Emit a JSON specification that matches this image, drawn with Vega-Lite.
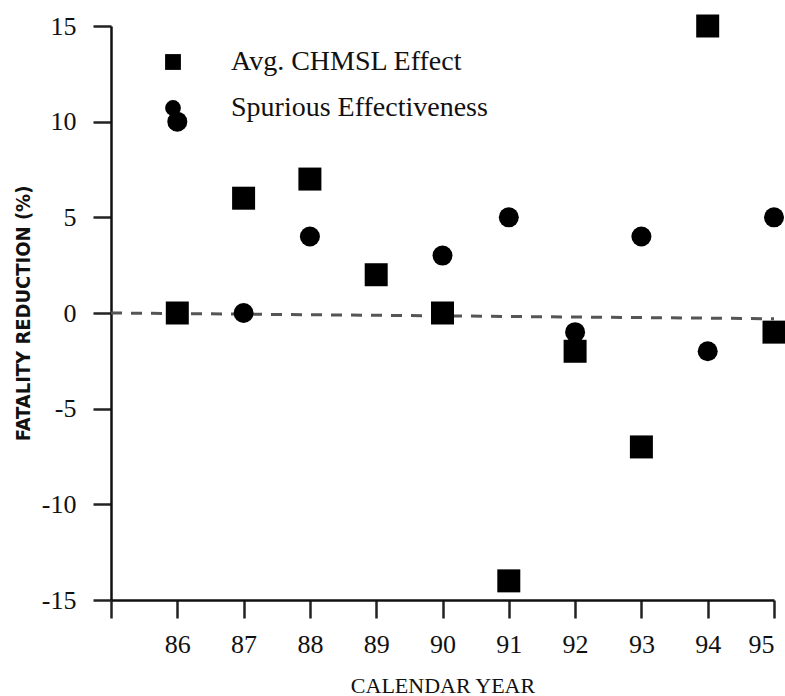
{
  "$schema": "https://vega.github.io/schema/vega-lite/v6.json",
  "autosize": "none",
  "width": 663,
  "height": 574,
  "padding": {"left": 111, "top": 26, "right": 11, "bottom": 96},
  "background": "white",
  "config": {
    "view": {"stroke": null},
    "axis": {"grid": false, "labelFont": "Liberation Serif", "titleFont": "Liberation Serif", "labelColor": "#111", "titleColor": "#111", "domainColor": "#111", "tickColor": "#222"}
  },
  "datasets": {
    "pts": [
      {"year": 86, "reduction": 0, "series": "Avg. CHMSL Effect"},
      {"year": 87, "reduction": 6, "series": "Avg. CHMSL Effect"},
      {"year": 88, "reduction": 7, "series": "Avg. CHMSL Effect"},
      {"year": 89, "reduction": 2, "series": "Avg. CHMSL Effect"},
      {"year": 90, "reduction": 0, "series": "Avg. CHMSL Effect"},
      {"year": 91, "reduction": -14, "series": "Avg. CHMSL Effect"},
      {"year": 92, "reduction": -2, "series": "Avg. CHMSL Effect"},
      {"year": 93, "reduction": -7, "series": "Avg. CHMSL Effect"},
      {"year": 94, "reduction": 15, "series": "Avg. CHMSL Effect"},
      {"year": 95, "reduction": -1, "series": "Avg. CHMSL Effect"},
      {"year": 86, "reduction": 10, "series": "Spurious Effectiveness"},
      {"year": 87, "reduction": 0, "series": "Spurious Effectiveness"},
      {"year": 88, "reduction": 4, "series": "Spurious Effectiveness"},
      {"year": 90, "reduction": 3, "series": "Spurious Effectiveness"},
      {"year": 91, "reduction": 5, "series": "Spurious Effectiveness"},
      {"year": 92, "reduction": -1, "series": "Spurious Effectiveness"},
      {"year": 93, "reduction": 4, "series": "Spurious Effectiveness"},
      {"year": 94, "reduction": -2, "series": "Spurious Effectiveness"},
      {"year": 95, "reduction": 5, "series": "Spurious Effectiveness"}
    ],
    "zero": [
      {"year": 85, "reduction": 0},
      {"year": 95, "reduction": -0.3}
    ]
  },
  "encoding": {
    "x": {
      "field": "year", "type": "quantitative",
      "scale": {"domain": [85, 95], "nice": false, "zero": false},
      "axis": {
        "title": "CALENDAR YEAR",
        "values": [85, 86, 87, 88, 89, 90, 91, 92, 93, 94, 95],
        "labelExpr": "datum.value == 85 ? '' : toString(datum.value)",
        "labelFontSize": 26,
        "labelPadding": 13,
        "tickSize": 18,
        "tickWidth": 2.5,
        "domainWidth": 2.5,
        "titleFontSize": 22,
        "titleFontWeight": "normal",
        "titlePadding": 18
      }
    },
    "y": {
      "field": "reduction", "type": "quantitative",
      "scale": {"domain": [-15, 15], "nice": false, "zero": false},
      "axis": {
        "title": "FATALITY REDUCTION (%)",
        "values": [-15, -10, -5, 0, 5, 10, 15],
        "labelExpr": "toString(datum.value)",
        "labelFontSize": 26,
        "labelPadding": 17,
        "tickSize": 18,
        "tickWidth": 2.5,
        "domainWidth": 2.5,
        "titleFont": "Liberation Sans Narrow, DejaVu Sans Condensed, Arial Narrow, DejaVu Sans",
        "titleFontSize": 20,
        "titleFontWeight": "bold",
        "titlePadding": 8
      }
    }
  },
  "layer": [
    {
      "data": {"name": "zero"},
      "mark": {"type": "line", "color": "#555", "strokeWidth": 3, "strokeDash": [11, 9]},
      "encoding": {}
    },
    {
      "data": {"name": "pts"},
      "transform": [{"filter": "datum.series == 'Avg. CHMSL Effect'"}],
      "mark": {"type": "point", "filled": true, "opacity": 1, "color": "black", "size": 529},
      "encoding": {
        "shape": {
          "field": "series", "type": "nominal",
          "scale": {"domain": ["Avg. CHMSL Effect", "Spurious Effectiveness"], "range": ["square", "circle"]},
          "legend": {
            "title": null,
            "orient": "none",
            "legendX": 48,
            "legendY": 22,
            "padding": 0,
            "symbolSize": 250,
            "symbolFillColor": "black",
            "symbolStrokeColor": "black",
            "symbolOpacity": 1,
            "labelFont": "Liberation Serif",
            "labelFontSize": 28,
            "labelColor": "#111",
            "labelOffset": 44,
            "rowPadding": 18,
            "labelLimit": 400
          }
        }
      }
    },
    {
      "data": {"name": "pts"},
      "transform": [{"filter": "datum.series == 'Spurious Effectiveness'"}],
      "mark": {"type": "point", "filled": true, "opacity": 1, "color": "black", "size": 400},
      "encoding": {
        "shape": {"field": "series", "type": "nominal"}
      }
    }
  ]
}
